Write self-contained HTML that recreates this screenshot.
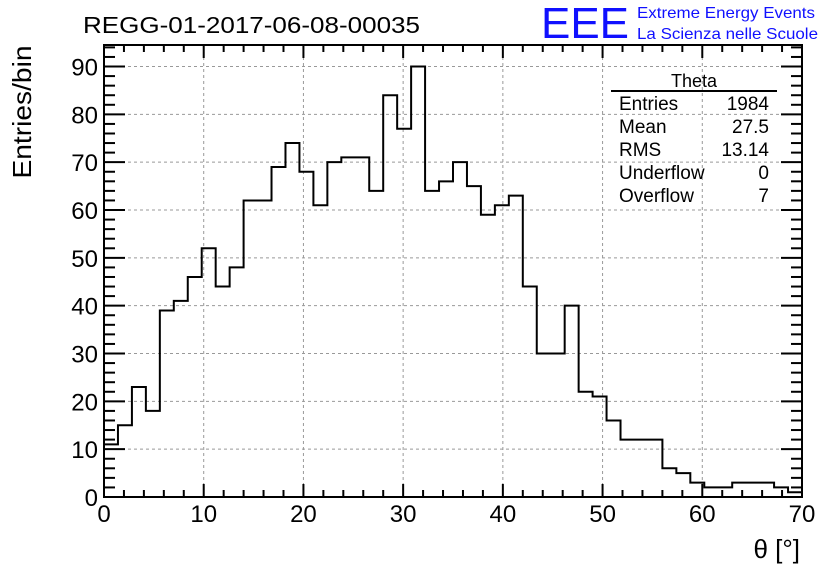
<!DOCTYPE html>
<html><head><meta charset="utf-8"><style>
body{margin:0;background:#fff;}
svg text{font-family:"Liberation Sans",sans-serif;}
</style></head><body>
<svg id="c" width="836" height="572" xmlns="http://www.w3.org/2000/svg">
<text x="83" y="33" font-size="23" textLength="337" lengthAdjust="spacingAndGlyphs">REGG-01-2017-06-08-00035</text>
<text x="541" y="38" font-size="44" fill="#1010ff" textLength="88" lengthAdjust="spacingAndGlyphs">EEE</text>
<text x="637" y="18" font-size="16" fill="#1010ff" textLength="178" lengthAdjust="spacingAndGlyphs">Extreme Energy Events</text>
<text x="637" y="39" font-size="16" fill="#1010ff" textLength="181" lengthAdjust="spacingAndGlyphs">La Scienza nelle Scuole</text>
<text transform="translate(31,112) rotate(-90)" text-anchor="middle" font-size="26" textLength="133" lengthAdjust="spacingAndGlyphs">Entries/bin</text>
<text x="800" y="558" text-anchor="end" font-size="26">θ [°]</text>
<g id="grid"></g><g id="ticks"></g><g id="labels"></g>
<path id="hist" fill="none" stroke="#000" stroke-width="2"/>
<rect x="104" y="45" width="698" height="452" fill="none" stroke="#000" stroke-width="2"/>
<g>
<text x="694" y="87" text-anchor="middle" font-size="18">Theta</text>
<line x1="611" y1="91" x2="777" y2="91" stroke="#000" stroke-width="2"/>
<g font-size="19">
<text x="619" y="110">Entries</text><text x="769" y="110" text-anchor="end">1984</text>
<text x="619" y="133">Mean</text><text x="769" y="133" text-anchor="end">27.5</text>
<text x="619" y="156">RMS</text><text x="769" y="156" text-anchor="end">13.14</text>
<text x="619" y="179">Underflow</text><text x="769" y="179" text-anchor="end">0</text>
<text x="619" y="202">Overflow</text><text x="769" y="202" text-anchor="end">7</text>
</g></g>
</svg>
<script>
const counts=[11,15,23,18,39,41,46,52,44,48,62,62,69,74,68,61,70,71,71,64,84,77,90,64,66,70,65,59,61,63,44,30,30,40,22,21,16,12,12,12,6,5,3,2,2,3,3,3,2,1];
const xMin=0, xMax=70;
const yMin=0, yMax=94.5;
const xTicks=[0,10,20,30,40,50,60,70];
const yTicks=[0,10,20,30,40,50,60,70,80,90];
const L=104,R=802,T=45,B=497;
const sx=v=>L+(v-xMin)/(xMax-xMin)*(R-L);
const sy=v=>B-(v-yMin)/(yMax-yMin)*(B-T);
const NS="http://www.w3.org/2000/svg";
function mk(tag,attrs,parent){const e=document.createElementNS(NS,tag);for(const k in attrs)e.setAttribute(k,attrs[k]);document.getElementById(parent).appendChild(e);return e;}
const bw=(xMax-xMin)/counts.length;
let d="M"+sx(0)+","+sy(0);
counts.forEach((c,i)=>{d+=" L"+sx(i*bw)+","+sy(c)+" L"+sx((i+1)*bw)+","+sy(c);});
d+=" L"+sx(xMax)+","+sy(0);
document.getElementById('hist').setAttribute('d',d);
xTicks.forEach(t=>{
 if(t>xMin&&t<xMax){const g=mk('line',{x1:sx(t),x2:sx(t),y1:T,y2:B,stroke:'#999','stroke-dasharray':'3,3','stroke-width':1},'grid');
 
 }
 const tx=mk('text',{x:sx(t),y:522,'text-anchor':'middle','font-size':24},'labels');tx.textContent=t;
 
 
});
yTicks.forEach(t=>{
 if(t>yMin){const g=mk('line',{x1:L,x2:R,y1:sy(t),y2:sy(t),stroke:'#999','stroke-dasharray':'3,3','stroke-width':1},'grid');
 
 }
 const tx=mk('text',{x:98,y:sy(t)+9,'text-anchor':'end','font-size':24},'labels');tx.textContent=t;
 
 
});
for(let v=xMin;v<=xMax;v+=2){const maj=v%10===0;const len=maj?13:7;
 mk('line',{x1:sx(v),x2:sx(v),y1:B,y2:B-len,stroke:'#000','stroke-width':2},'ticks');
 mk('line',{x1:sx(v),x2:sx(v),y1:T,y2:T+len,stroke:'#000','stroke-width':2},'ticks');}
for(let v=0;v<=94;v+=2){const maj=v%10===0;const len=maj?21:11;
 mk('line',{x1:L,x2:L+len,y1:sy(v),y2:sy(v),stroke:'#000','stroke-width':2},'ticks');
 mk('line',{x1:R,x2:R-len,y1:sy(v),y2:sy(v),stroke:'#000','stroke-width':2},'ticks');}
</script>
</body></html>
